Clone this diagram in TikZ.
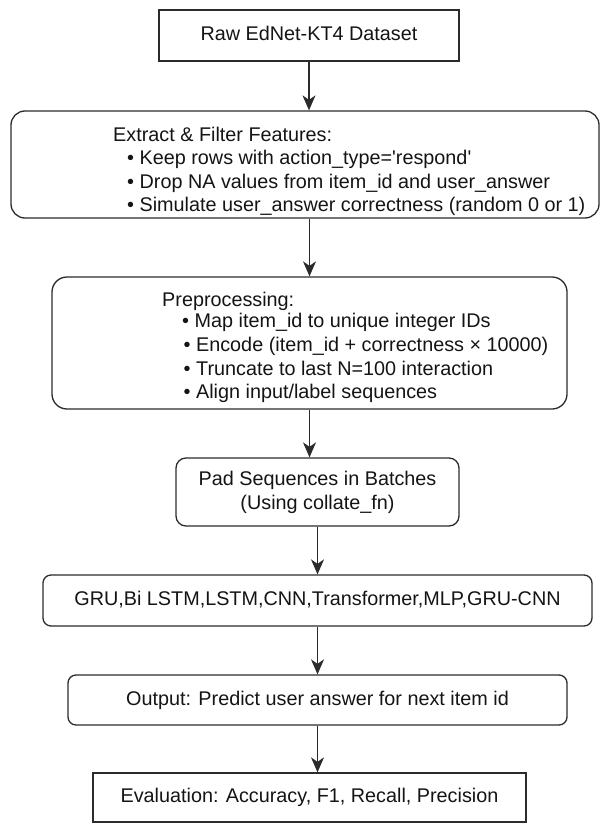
\documentclass[tikz,border=0pt]{standalone}
\usepackage{fontspec}
\setmainfont{Liberation Sans}
\usetikzlibrary{arrows.meta}
\definecolor{linec}{HTML}{2B2B2B}
\definecolor{textc}{HTML}{141414}
\begin{document}
\begin{tikzpicture}[x=1pt,y=-1pt,
  box/.style={draw=linec, line width=1.3pt, text=textc, font=\fontsize{19.8}{24}\selectfont, align=center, inner sep=0pt},
  oneline/.style={text height=14pt, text depth=4pt},
  flow/.style={draw=linec, line width=1.3pt, -{Stealth[length=15pt,width=13pt,inset=4.5pt]}},
  txt/.style={anchor=base west, inner sep=0pt, text=textc, font=\fontsize{19.8}{24}\selectfont}]
\useasboundingbox (0,0) rectangle (601,824);
% boxes
\node[box, oneline, minimum width=300pt, minimum height=51pt] (b1) at (309,35.5) {Raw EdNet-KT4 Dataset};
\node[box, rounded corners=14pt, minimum width=588pt, minimum height=107pt] (b2) at (305,164.5) {};
\node[box, rounded corners=15pt, minimum width=515pt, minimum height=132pt] (b3) at (309.5,343) {};
\node[box, rounded corners=10pt, minimum width=283pt, minimum height=68pt] (b4) at (317.5,492) {Pad Sequences in Batches\\(Using collate\_fn)};
\node[box, oneline, rounded corners=8pt, minimum width=549pt, minimum height=51pt] (b5) at (317.5,600.5) {GRU,Bi LSTM,LSTM,CNN,Transformer,MLP,GRU-CNN};
\node[box, oneline, rounded corners=8pt, minimum width=499pt, minimum height=50pt] (b6) at (317.5,700) {Output: Predict user answer for next item id};
\node[box, oneline, minimum width=433pt, minimum height=49pt] (b7) at (309.5,797.5) {Evaluation: Accuracy, F1, Recall, Precision};
% texts of box 2
\node[txt] (t2a) at (113,141) {Extract \& Filter Features:};
\node[txt] (t2b) at (127,164) {• Keep rows with action\_type=\textquotesingle respond\textquotesingle};
\node[txt] (t2c) at (127,188) {• Drop NA values from item\_id and user\_answer};
\node[txt] (t2d) at (127,211) {• Simulate user\_answer correctness (random 0 or 1)};
% texts of box 3
\node[txt] (t3a) at (162,306) {Preprocessing:};
\node[txt] (t3b) at (182,327) {• Map item\_id to unique integer IDs};
\node[txt] (t3c) at (183.5,351) {• Encode (item\_id + correctness × 10000)};
\node[txt] (t3d) at (183.5,375) {• Truncate to last N=100 interaction};
\node[txt] (t3e) at (183.5,398) {• Align input/label sequences};
% connectors
\draw[flow] (b1.south) -- (b1.south |- b2.north);
\draw[flow] (b3.north |- b2.south) -- (b3.north);
\draw[flow] (b3.south) -- (b3.south |- b4.north);
\draw[flow] (b4.south) -- (b4.south |- b5.north);
\draw[flow] (b5.south) -- (b6.north);
\draw[flow] (b6.south) -- (b6.south |- b7.north);
\end{tikzpicture}
\end{document}
